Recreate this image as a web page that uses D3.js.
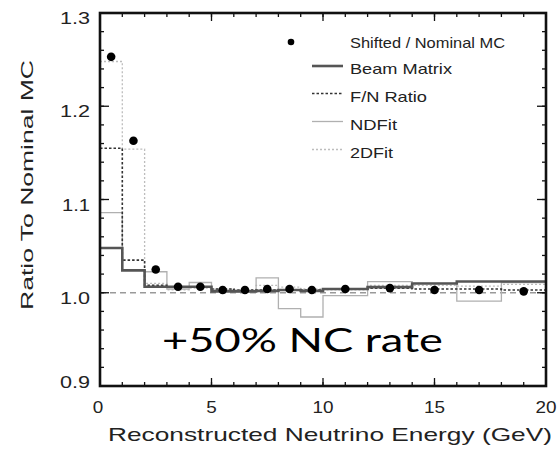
<!DOCTYPE html>
<html>
<head>
<meta charset="utf-8">
<script src="https://cdn.jsdelivr.net/npm/d3@7/dist/d3.min.js"></script>
<style>
  html, body { margin: 0; padding: 0; background: #fff; }
  svg { display: block; }
  text { fill: #222; }
</style>
</head>
<body>
<div id="chart"></div>
<script>
// Bin edges in reconstructed energy (GeV)
const binEdges = [0, 1, 2, 3, 4, 5, 6, 7, 8, 9, 10, 12, 14, 16, 18, 20];

// Ratio to nominal MC, one value per bin
const shiftedNominal = [1.253, 1.163, 1.025, 1.0065, 1.0065, 1.003, 1.003, 1.004, 1.004, 1.003, 1.004, 1.005, 1.003, 1.003, 1.0015];
const beamMatrix     = [1.048, 1.024, 1.0065, 1.0065, 1.0065, 1.0015, 1.0015, 1.002, 1.003, 1.002, 1.004, 1.006, 1.010, 1.012, 1.012];
const fnRatio        = [1.155, 1.035, 1.008, 1.006, 1.006, 1.004, 1.003, 1.003, 1.003, 1.003, 1.004, 1.005, 1.004, 1.004, 1.003];
const ndFit          = [1.086, 1.024, 1.0225, 1.004, 1.011, 1.003, 1.001, 1.016, 0.983, 0.974, 0.997, 1.012, 1.010, 0.991, 1.011];
const twoDFit        = [1.248, 1.154, 1.010, 1.003, 1.005, 1.004, 1.003, 1.008, 1.006, 1.004, 1.003, 1.008, 1.008, 1.007, 1.009];

const yTickValues = [0.9, 1.0, 1.1, 1.2, 1.3];
const xTickValues = [0, 5, 10, 15, 20];
const legendLabels = ["Shifted / Nominal MC", "Beam Matrix", "F/N Ratio", "NDFit", "2DFit"];
const annotation = "+50% NC rate";
const xTitle = "Reconstructed Neutrino Energy (GeV)";
const yTitle = "Ratio To Nominal MC";

const W = 560, H = 452;
const frame = { left: 100, right: 546, top: 13, bottom: 386 };
const labelFont = "'Liberation Sans', Arial, sans-serif";

const svg = d3.select("#chart").append("svg")
  .attr("width", W).attr("height", H);

const x = d3.scaleLinear().domain([0, 20]).range([frame.left, frame.right]);
const y = d3.scaleLinear().domain([0.9, 1.3]).range([frame.bottom, frame.top]);

// Reference line at unity
svg.append("line")
  .attr("x1", x(0)).attr("x2", x(20))
  .attr("y1", y(1)).attr("y2", y(1))
  .attr("stroke", "#9a9a9a").attr("stroke-width", 1.5)
  .attr("stroke-dasharray", "6,4");

// Step histogram helper
function stepPoints(vals) {
  const pts = vals.map((v, i) => [binEdges[i], v]);
  pts.push([binEdges[binEdges.length - 1], vals[vals.length - 1]]);
  return pts;
}
const stepLine = d3.line()
  .x(d => x(d[0])).y(d => y(d[1]))
  .curve(d3.curveStepAfter);

const series = [
  { vals: twoDFit,    stroke: "#bdbdbd", width: 1.3, dash: "2,2" },
  { vals: ndFit,      stroke: "#b0b0b0", width: 1.3, dash: null },
  { vals: fnRatio,    stroke: "#333333", width: 1.6, dash: "2.5,2" },
  { vals: beamMatrix, stroke: "#555555", width: 2.6, dash: null }
];

series.forEach(s => {
  svg.append("path")
    .attr("d", stepLine(stepPoints(s.vals)))
    .attr("fill", "none")
    .attr("stroke", s.stroke)
    .attr("stroke-width", s.width)
    .attr("stroke-dasharray", s.dash);
});

// Shifted / nominal points at bin centres
svg.selectAll("circle.pt")
  .data(shiftedNominal)
  .enter().append("circle")
  .attr("class", "pt")
  .attr("cx", (d, i) => x((binEdges[i] + binEdges[i + 1]) / 2))
  .attr("cy", d => y(d))
  .attr("r", 4.3)
  .attr("fill", "#000");

// Axes with inward ticks on all four sides
const axisG = svg.append("g").attr("stroke", "#111");
function ticks(vals, scale, len, side) {
  vals.forEach(v => {
    const p = scale(v);
    if (side === "left")   axisG.append("line").attr("x1", frame.left).attr("x2", frame.left + len).attr("y1", p).attr("y2", p);
    if (side === "right")  axisG.append("line").attr("x1", frame.right).attr("x2", frame.right - len).attr("y1", p).attr("y2", p);
    if (side === "bottom") axisG.append("line").attr("y1", frame.bottom).attr("y2", frame.bottom - len).attr("x1", p).attr("x2", p);
    if (side === "top")    axisG.append("line").attr("y1", frame.top).attr("y2", frame.top + len).attr("x1", p).attr("x2", p);
  });
}
const yMinor = d3.range(0, 21).map(i => 0.9 + i * 0.02);
const xMinor = d3.range(0, 21);
axisG.attr("stroke-width", 1.3);
["left", "right"].forEach(s => { ticks(yMinor, y, 4, s); ticks(yTickValues, y, 9, s); });
["bottom", "top"].forEach(s => { ticks(xMinor, x, 4, s); ticks(xTickValues, x, 8, s); });

svg.append("rect")
  .attr("x", frame.left).attr("y", frame.top)
  .attr("width", frame.right - frame.left).attr("height", frame.bottom - frame.top)
  .attr("fill", "none").attr("stroke", "#111").attr("stroke-width", 2.6);

// Tick labels
const yLabelWidths = { "0.9": 30, "1.0": 30, "1.1": 28, "1.2": 30, "1.3": 30 };
yTickValues.forEach(v => {
  const s = v.toFixed(1);
  svg.append("text")
    .attr("x", 90)
    .attr("y", y(v) + (v === 0.9 ? 2 : 11))
    .attr("text-anchor", "end")
    .style("font-family", labelFont)
    .attr("font-size", 16)
    .attr("textLength", yLabelWidths[s])
    .attr("lengthAdjust", "spacingAndGlyphs")
    .text(s);
});
xTickValues.forEach(v => {
  const s = String(v);
  svg.append("text")
    .attr("x", x(v) - (v === 0 ? 2 : 0))
    .attr("y", 413)
    .attr("text-anchor", "middle")
    .style("font-family", labelFont)
    .attr("font-size", 16)
    .attr("textLength", s.length * 10.5)
    .attr("lengthAdjust", "spacingAndGlyphs")
    .text(s);
});

// Axis titles
svg.append("text")
  .attr("x", 330).attr("y", 441)
  .attr("text-anchor", "middle")
  .style("font-family", labelFont)
  .attr("font-size", 19)
  .attr("textLength", 444)
  .attr("lengthAdjust", "spacingAndGlyphs")
  .text(xTitle);

svg.append("text")
  .attr("transform", "translate(33,185) rotate(-90)")
  .attr("text-anchor", "middle")
  .style("font-family", labelFont)
  .attr("font-size", 16)
  .attr("textLength", 250)
  .attr("lengthAdjust", "spacingAndGlyphs")
  .text(yTitle);

// Legend
const legendRows = [42, 68.5, 96, 124, 152];
const legendWidths = [155, 102, 77, 47, 43];
const legendG = svg.append("g");
legendLabels.forEach((lab, i) => {
  const cy = legendRows[i];
  if (i === 0) {
    legendG.append("circle").attr("cx", 291).attr("cy", cy).attr("r", 3.3).attr("fill", "#000");
  } else {
    const s = series[4 - i];
    legendG.append("line")
      .attr("x1", 312).attr("x2", 343)
      .attr("y1", cy - 2.5).attr("y2", cy - 2.5)
      .attr("stroke", s.stroke)
      .attr("stroke-width", s.width)
      .attr("stroke-dasharray", s.dash);
  }
  legendG.append("text")
    .attr("x", 350).attr("y", cy + 5.5)
    .style("font-family", labelFont)
    .attr("font-size", 15)
    .attr("textLength", legendWidths[i])
    .attr("lengthAdjust", "spacingAndGlyphs")
    .text(lab);
});

// Annotation
svg.append("text")
  .attr("x", 162).attr("y", 352)
  .style("font-family", "Lato, 'Noto Sans', sans-serif")
  .attr("font-size", 32)
  .attr("textLength", 281)
  .attr("lengthAdjust", "spacingAndGlyphs")
  .style("fill", "#000")
  .text(annotation);
</script>
</body>
</html>
